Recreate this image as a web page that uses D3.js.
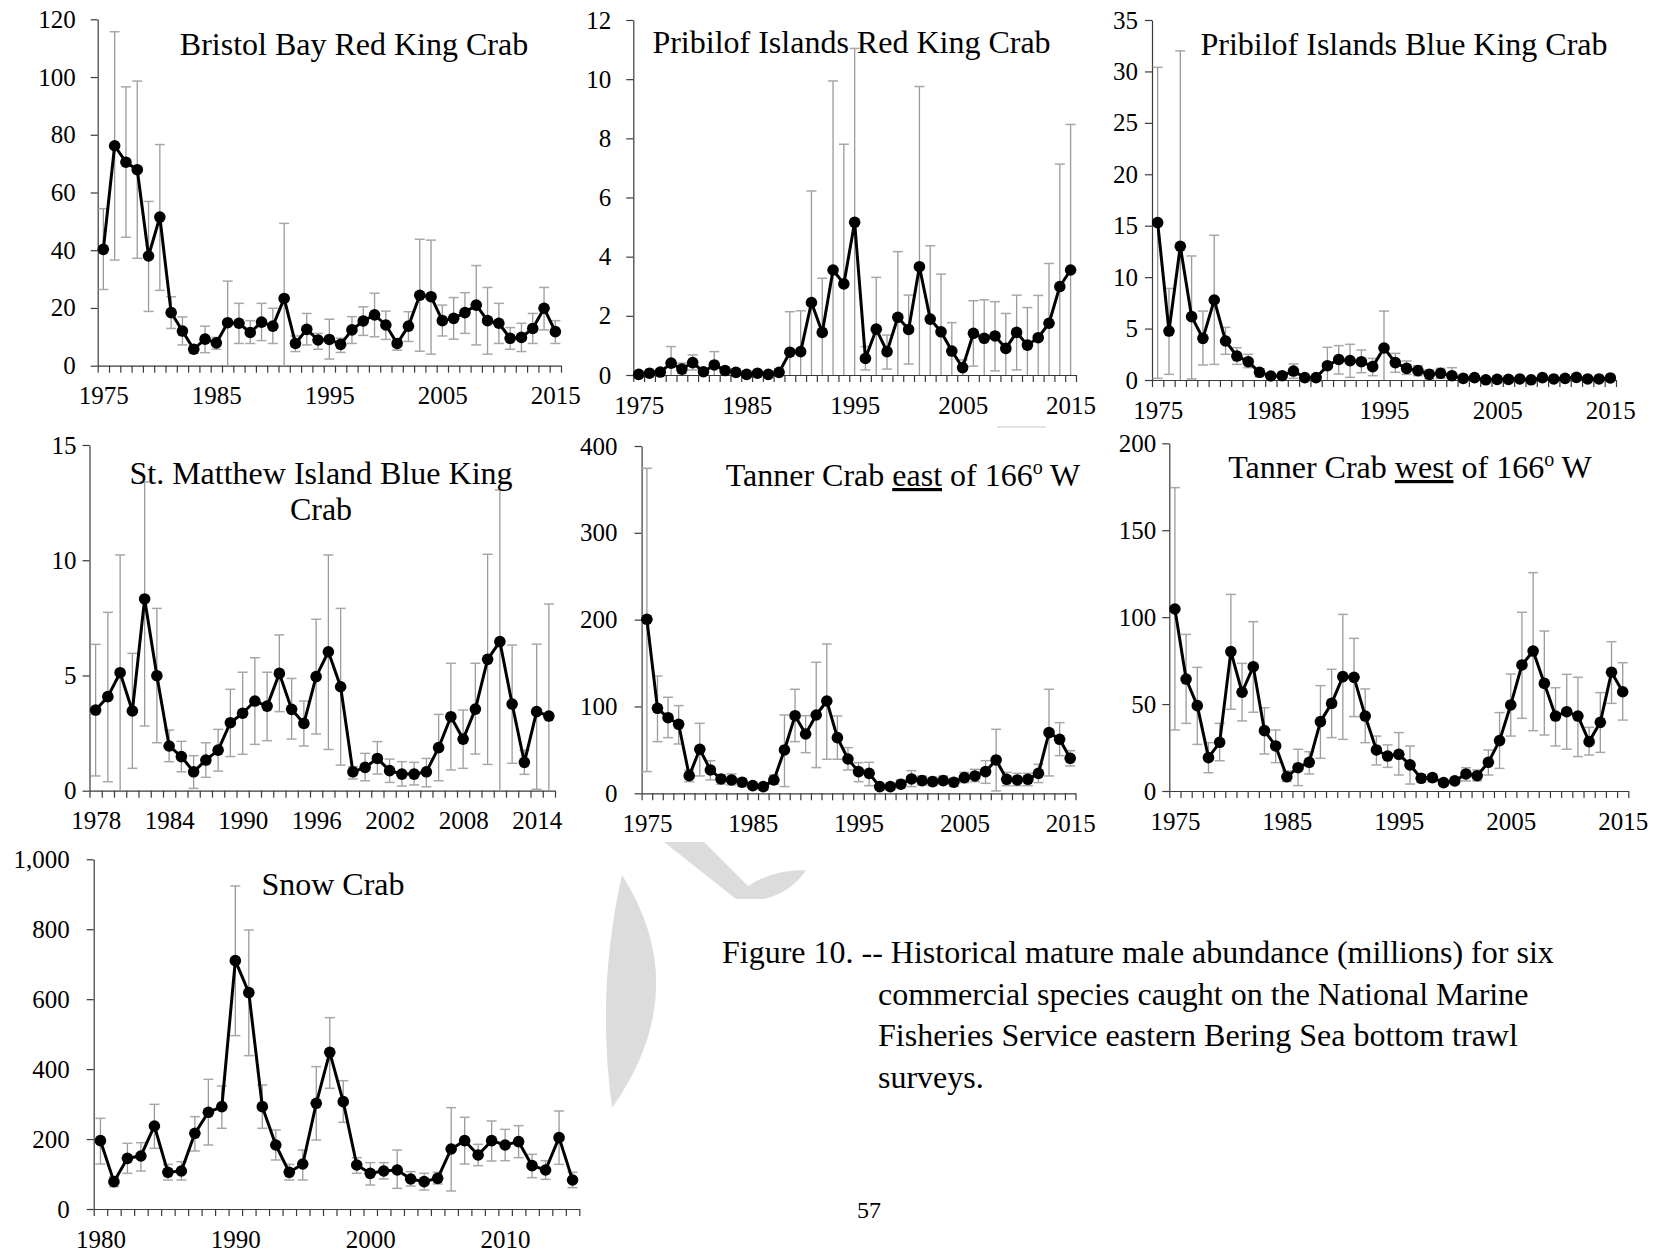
<!DOCTYPE html>
<html><head><meta charset="utf-8">
<script src="https://cdn.jsdelivr.net/npm/d3@7"></script>
<style>
html,body{margin:0;padding:0;background:#fff;}
svg{display:block;font-family:"Liberation Serif","Times New Roman",serif;}
</style></head><body>
<svg id="chart" width="1663" height="1255"></svg>
<script>
// ---------------- DATA ----------------
// Bristol Bay Red King Crab (1975-2015)
const bbYears = d3.range(1975, 2016);
const bbValues = [40.3, 76.2, 70.5, 67.9, 38.0, 51.5, 18.4, 12.0, 5.7, 9.2, 7.9, 14.9, 14.7, 11.5, 15.1, 13.7, 23.3, 7.7, 12.6, 8.9, 9.1, 7.4, 12.4, 15.5, 17.6, 14.1, 7.7, 13.7, 24.4, 23.9, 15.6, 16.4, 18.4, 21.0, 15.6, 14.7, 9.5, 9.8, 12.9, 19.9, 11.8];
const bbUpper = [54.4, 115.7, 96.6, 98.6, 56.9, 76.6, 23.9, 16.9, 6.6, 13.7, 9.8, 29.3, 21.6, 15.6, 21.6, 19.9, 49.3, 10.3, 18.1, 11.2, 16.1, 9.5, 17.0, 20.4, 25.1, 18.9, 8.9, 18.7, 43.8, 43.5, 21.0, 23.6, 25.3, 34.7, 27.1, 21.6, 13.2, 14.7, 18.1, 27.1, 15.6];
const bbLower = [26.4, 36.6, 44.5, 37.2, 18.8, 26.1, 12.9, 7.2, 4.3, 4.5, 5.7, 0, 7.7, 7.7, 8.7, 7.7, 0, 4.9, 7.2, 5.7, 2.3, 4.6, 7.7, 10.5, 10.0, 9.1, 5.4, 8.4, 5.0, 4.0, 10.3, 9.2, 11.2, 7.2, 4.0, 7.7, 5.7, 4.9, 7.7, 12.4, 7.7];
const bbYTicks = [0, 20, 40, 60, 80, 100, 120];

// Pribilof Islands Red King Crab (1975-2015)
const pirkYears = d3.range(1975, 2016);
const pirkValues = [0.02, 0.06, 0.1, 0.4, 0.2, 0.42, 0.11, 0.34, 0.15, 0.09, 0.02, 0.06, 0.02, 0.09, 0.77, 0.79, 2.45, 1.44, 3.55, 3.08, 5.16, 0.56, 1.55, 0.79, 1.95, 1.54, 3.66, 1.89, 1.46, 0.81, 0.25, 1.41, 1.24, 1.32, 0.90, 1.44, 1.01, 1.26, 1.75, 2.99, 3.55];
const pirkUpper = [0.05, 0.1, 0.2, 0.96, 0.4, 0.68, 0.2, 0.79, 0.28, 0.15, 0.05, 0.08, 0.05, 0.17, 2.14, 2.17, 6.22, 3.27, 9.94, 7.80, 11.04, 0.96, 3.30, 1.35, 4.17, 2.70, 9.75, 4.37, 3.41, 1.77, 0.51, 2.51, 2.54, 2.48, 2.08, 2.70, 2.28, 2.69, 3.77, 7.13, 8.47];
const pirkLower = [0, 0.02, 0, 0, 0.05, 0.17, 0.05, 0, 0.05, 0.05, 0, 0.04, 0, 0.02, 0, 0, 0, 0, 0, 0, 0, 0.17, 0, 0.2, 0, 0.37, 0, 0, 0, 0, 0, 0.30, 0, 0.14, 0, 0.17, 0, 0, 0, 0, 0];
const pirkYTicks = [0, 2, 4, 6, 8, 10, 12];

// Pribilof Islands Blue King Crab (1975-2015)
const pibkYears = d3.range(1975, 2016);
const pibkValues = [15.3, 4.76, 13.0, 6.16, 4.05, 7.78, 3.79, 2.33, 1.78, 0.75, 0.39, 0.42, 0.87, 0.23, 0.23, 1.39, 2.0, 1.88, 1.78, 1.30, 3.11, 1.69, 1.13, 0.91, 0.55, 0.65, 0.42, 0.16, 0.23, 0.02, 0.06, 0.06, 0.1, 0.02, 0.23, 0.1, 0.16, 0.26, 0.1, 0.1, 0.2];
const pibkUpper = [30.4, 8.9, 32.0, 12.06, 6.7, 14.07, 5.12, 3.14, 2.5, 1.07, 0.6, 0.6, 1.56, 0.35, 0.35, 3.18, 3.34, 3.47, 2.92, 2.1, 6.7, 2.59, 1.85, 1.39, 0.97, 1.13, 1.2, 0.3, 0.4, 0.05, 0.15, 0.15, 0.2, 0.05, 0.4, 0.2, 0.3, 0.45, 0.2, 0.2, 0.35];
const pibkLower = [0.16, 0.55, 0, 0.1, 1.46, 1.52, 2.5, 1.52, 1.2, 0.32, 0.2, 0.2, 0.16, 0.1, 0.1, 0, 0.58, 0.26, 0.71, 0.42, 0, 0.75, 0.55, 0.42, 0.1, 0.16, 0, 0.05, 0.05, 0, 0, 0, 0, 0, 0.05, 0, 0.05, 0.1, 0, 0, 0.05];
const pibkYTicks = [0, 5, 10, 15, 20, 25, 30, 35];

// St. Matthew Island Blue King Crab (1978-2015)
const smbkYears = d3.range(1978, 2016);
const smbkValues = [3.5, 4.08, 5.12, 3.46, 8.32, 4.99, 1.94, 1.48, 0.82, 1.33, 1.76, 2.95, 3.36, 3.89, 3.67, 5.09, 3.53, 2.92, 4.95, 6.03, 4.51, 0.82, 1.01, 1.40, 0.87, 0.72, 0.72, 0.82, 1.87, 3.21, 2.24, 3.54, 5.70, 6.47, 3.76, 1.23, 3.43, 3.24];
const smbkUpper = [6.35, 7.74, 10.23, 5.96, 13.4, 7.91, 2.63, 2.14, 1.52, 2.08, 2.66, 4.4, 5.14, 5.77, 5.14, 6.76, 4.87, 3.89, 7.44, 10.23, 7.91, 1.04, 1.62, 2.13, 1.37, 1.26, 1.23, 1.40, 3.31, 5.53, 3.5, 5.53, 10.26, 13.05, 6.32, 1.76, 6.36, 8.1];
const smbkLower = [0.64, 0.39, 0, 0.97, 2.81, 2.08, 1.26, 0.82, 0.1, 0.58, 0.85, 1.48, 1.58, 2.01, 2.17, 3.43, 2.24, 1.94, 2.46, 1.79, 1.11, 0.51, 0.43, 0.72, 0.36, 0.2, 0.25, 0.17, 0.43, 0.9, 0.97, 1.59, 1.14, 0, 1.19, 0.71, 0.06, 0];
const smbkYTicks = [0, 5, 10, 15];

// Tanner Crab east of 166 W (1975-2015)
const teYears = d3.range(1975, 2016);
const teValues = [200.4, 97.9, 87.1, 79.5, 20.3, 50.7, 26.9, 16.5, 15.4, 12.7, 8.8, 7.7, 15.4, 49.9, 89.4, 68.3, 90.2, 106.3, 64.1, 39.5, 25.0, 23.0, 7.7, 7.7, 10.4, 16.5, 14.6, 13.4, 14.6, 12.7, 18.0, 20.0, 25.0, 38.4, 16.1, 15.4, 16.1, 23.0, 69.9, 62.2, 40.3];
const teUpper = [374.3, 135.1, 110.6, 101.0, 26.9, 80.6, 37.6, 21.1, 22.3, 17.3, 11.5, 10.4, 21.1, 90.2, 119.8, 89.4, 150.9, 172.0, 89.1, 52.6, 35.3, 35.7, 9.6, 11.5, 15.4, 26.1, 20.0, 18.4, 20.0, 17.3, 24.2, 27.6, 37.6, 73.7, 24.2, 23.0, 23.0, 33.4, 119.8, 81.4, 49.1];
const teLower = [25.0, 59.5, 64.1, 56.8, 13.4, 20.0, 15.4, 10.7, 9.6, 7.7, 5.0, 3.8, 10.4, 7.7, 59.5, 46.8, 29.6, 39.2, 39.2, 26.9, 13.4, 8.8, 4.6, 3.8, 6.5, 7.7, 9.6, 8.8, 10.4, 7.7, 12.3, 13.4, 11.5, 2.7, 8.8, 8.8, 8.8, 12.3, 20.0, 43.4, 31.5];
const teYTicks = [0, 100, 200, 300, 400];

// Tanner Crab west of 166 W (1975-2015)
const twYears = d3.range(1975, 2016);
const twValues = [104.7, 64.4, 49.1, 19.2, 28.0, 80.2, 56.8, 71.5, 34.7, 25.9, 8.2, 13.4, 16.5, 39.9, 50.4, 65.8, 65.4, 43.1, 23.6, 20.1, 21.1, 15.0, 7.3, 7.7, 4.8, 5.8, 9.8, 8.8, 16.5, 29.0, 49.5, 72.5, 80.5, 61.9, 43.1, 45.6, 43.1, 28.4, 39.5, 68.3, 57.1];
const twUpper = [174.5, 90.1, 71.1, 27.8, 38.9, 113.1, 73.4, 97.4, 47.9, 35.1, 11.5, 24.0, 22.6, 60.6, 70.0, 101.6, 87.8, 58.7, 31.6, 26.5, 33.6, 25.9, 9.6, 9.6, 6.3, 7.7, 13.4, 12.1, 23.6, 45.1, 67.3, 102.8, 125.6, 92.0, 59.4, 67.1, 65.4, 36.6, 56.6, 85.9, 73.8];
const twLower = [35.1, 38.9, 26.8, 10.5, 17.4, 47.0, 40.3, 45.3, 21.3, 16.3, 5.4, 3.1, 9.8, 18.8, 30.7, 29.7, 42.8, 27.8, 15.0, 13.6, 9.2, 4.0, 5.0, 5.4, 3.1, 3.8, 5.8, 5.8, 9.2, 13.0, 31.6, 41.8, 34.7, 32.2, 25.9, 24.0, 19.8, 20.7, 22.2, 50.4, 40.8];
const twYTicks = [0, 50, 100, 150, 200];

// Snow Crab (1980-2015)
const scYears = d3.range(1980, 2016);
const scValues = [195.4, 78.2, 144.9, 151.6, 237.4, 104.9, 108.7, 216.4, 276.5, 292.7, 710.2, 618.7, 292.7, 183.0, 104.9, 128.7, 302.2, 448.1, 307.0, 125.8, 102.0, 108.7, 111.5, 85.8, 78.2, 87.7, 171.6, 195.4, 154.4, 195.4, 183.0, 192.6, 123.9, 111.5, 204.0, 82.9];
const scUpper = [259.3, 92.5, 187.8, 189.7, 299.3, 127.7, 135.4, 264.1, 370.8, 351.8, 923.7, 797.9, 354.6, 225.9, 127.7, 168.7, 407.1, 547.2, 367.0, 146.8, 132.5, 132.5, 168.7, 106.8, 102.0, 104.9, 289.8, 262.2, 184.9, 251.7, 227.8, 238.3, 156.3, 138.2, 280.3, 104.9];
const scLower = [128.7, 63.9, 102.0, 108.7, 173.5, 82.9, 82.9, 165.9, 183.0, 230.7, 495.7, 438.5, 230.7, 140.1, 82.9, 82.9, 197.3, 345.1, 247.9, 102.0, 68.6, 85.8, 59.1, 65.8, 54.3, 71.5, 51.5, 128.7, 123.9, 137.3, 138.2, 146.8, 89.6, 84.8, 127.7, 61.0];
const scYTicks = [0, 200, 400, 600, 800, 1000];

// tick labels on the year axes
const labels75 = [1975, 1985, 1995, 2005, 2015];
const labels78 = [1978, 1984, 1990, 1996, 2002, 2008, 2014];
const labels80 = [1980, 1990, 2000, 2010];

// titles
const titleBB = [[{t: "Bristol Bay Red King Crab"}]];
const titlePIRK = [[{t: "Pribilof Islands Red King Crab"}]];
const titlePIBK = [[{t: "Pribilof Islands Blue King Crab"}]];
const titleSMBK = [[{t: "St. Matthew Island Blue King"}], [{t: "Crab"}]];
const titleTE = [[{t: "Tanner Crab "}, {t: "east", u: true}, {t: " of 166"}, {t: "o", sup: true}, {t: " W"}]];
const titleTW = [[{t: "Tanner Crab "}, {t: "west", u: true}, {t: " of 166"}, {t: "o", sup: true}, {t: " W"}]];
const titleSC = [[{t: "Snow Crab"}]];

const captionLines = [
  "Figure 10. -- Historical mature male abundance (millions) for six",
  "commercial species caught on the National Marine",
  "Fisheries Service eastern Bering Sea bottom trawl",
  "surveys."
];
const pageNumber = "57";

// ---------------- LAYOUT ----------------
const panels = [
  {years: bbYears, values: bbValues, upper: bbUpper, lower: bbLower, yTicks: bbYTicks, xLabels: labels75, title: titleBB,
   box: {l: 97.7, r: 561, t: 19.3, b: 365.7}, tx: 354, ty: 55, yPad: 15, fmt: d3.format("d")},
  {years: pirkYears, values: pirkValues, upper: pirkUpper, lower: pirkLower, yTicks: pirkYTicks, xLabels: labels75, title: titlePIRK,
   box: {l: 633.3, r: 1076, t: 20, b: 375}, tx: 851.5, ty: 53, yPad: 15, fmt: d3.format("d")},
  {years: pibkYears, values: pibkValues, upper: pibkUpper, lower: pibkLower, yTicks: pibkYTicks, xLabels: labels75, title: titlePIBK,
   box: {l: 1152, r: 1616, t: 20, b: 380}, tx: 1404, ty: 55, yPad: 7, fmt: d3.format("d")},
  {years: smbkYears, values: smbkValues, upper: smbkUpper, lower: smbkLower, yTicks: smbkYTicks, xLabels: labels78, title: titleSMBK,
   box: {l: 89.5, r: 555, t: 445, b: 790.7}, tx: 321, ty: 484, yPad: 6, fmt: d3.format("d")},
  {years: teYears, values: teValues, upper: teUpper, lower: teLower, yTicks: teYTicks, xLabels: labels75, title: titleTE,
   box: {l: 641.6, r: 1075.5, t: 446, b: 793.3}, tx: 903, ty: 486, yPad: 17, fmt: d3.format("d")},
  {years: twYears, values: twValues, upper: twUpper, lower: twLower, yTicks: twYTicks, xLabels: labels75, title: titleTW,
   box: {l: 1169.3, r: 1628.3, t: 443.3, b: 791}, tx: 1410, ty: 478, yPad: 6, fmt: d3.format("d")},
  {years: scYears, values: scValues, upper: scUpper, lower: scLower, yTicks: scYTicks, xLabels: labels80, title: titleSC,
   box: {l: 93.7, r: 579.3, t: 859.3, b: 1209}, tx: 333, ty: 895, yPad: 17, fmt: d3.format(",")}
];

const FONT = '"Liberation Serif","Times New Roman",serif';
const svg = d3.select("#chart");

// faint watermark fragments
svg.append("path").attr("d", "M 622 875 Q 695 990 612 1108 Q 596 990 622 875 Z").attr("fill", "#dcdcdc");
svg.append("path").attr("d", "M 664 842 L 704 842 L 748 886 Q 772 870 806 870 Q 792 892 764 899 L 736 899 Z").attr("fill", "#dcdcdc");
svg.append("line").attr("x1", 997).attr("x2", 1046).attr("y1", 427).attr("y2", 427).attr("stroke", "#e2e2e2").attr("stroke-width", 2);

function styleAxis(sel) {
  sel.attr("font-family", FONT).attr("font-size", 25);
  sel.selectAll("path.domain").attr("stroke", "#3a3a3a").attr("stroke-width", 1.2);
  sel.selectAll(".tick line").attr("stroke", "#3a3a3a").attr("stroke-width", 1.2);
  sel.selectAll("text").attr("fill", "#000");
}

function drawPanel(p) {
  const g = svg.append("g");
  const first = p.years[0], last = p.years[p.years.length - 1];
  const x = d3.scaleLinear().domain([first - 0.5, last + 0.5]).range([p.box.l, p.box.r]);
  const y = d3.scaleLinear().domain([0, p.yTicks[p.yTicks.length - 1]]).range([p.box.b, p.box.t]);

  // y axis
  g.append("g").attr("transform", `translate(${p.box.l},0)`)
    .call(d3.axisLeft(y).tickValues(p.yTicks).tickSize(7).tickSizeOuter(0).tickPadding(p.yPad).tickFormat(p.fmt))
    .call(styleAxis);

  // x axis: tick marks between categories
  const bounds = p.years.map(v => v - 0.5).concat([last + 0.5]);
  g.append("g").attr("transform", `translate(0,${p.box.b})`)
    .call(d3.axisBottom(x).tickValues(bounds).tickSize(7).tickSizeOuter(0).tickFormat(""))
    .call(styleAxis);
  // x labels centered on categories
  g.append("g").attr("transform", `translate(0,${p.box.b})`)
    .call(d3.axisBottom(x).tickValues(p.xLabels).tickSize(0).tickPadding(21).tickFormat(d3.format("d")))
    .call(styleAxis)
    .call(s => s.select(".domain").remove());

  const rows = p.years.map((yr, i) => ({yr, v: p.values[i], hi: p.upper[i], lo: p.lower[i]}));

  // error bars
  const cap = 5;
  const eb = g.append("g").selectAll("g").data(rows).join("g");
  eb.append("line")
    .attr("x1", d => x(d.yr)).attr("x2", d => x(d.yr))
    .attr("y1", d => y(d.hi)).attr("y2", d => y(d.lo))
    .attr("stroke", "#9a9a9a").attr("stroke-width", 1.3);
  eb.append("line")
    .attr("x1", d => x(d.yr) - cap).attr("x2", d => x(d.yr) + cap)
    .attr("y1", d => y(d.hi)).attr("y2", d => y(d.hi))
    .attr("stroke", "#a8a8a8").attr("stroke-width", 1.5);
  eb.filter(d => d.lo > 0).append("line")
    .attr("x1", d => x(d.yr) - cap).attr("x2", d => x(d.yr) + cap)
    .attr("y1", d => y(d.lo)).attr("y2", d => y(d.lo))
    .attr("stroke", "#a8a8a8").attr("stroke-width", 1.5);

  // line
  g.append("path").datum(rows)
    .attr("d", d3.line().x(d => x(d.yr)).y(d => y(d.v)))
    .attr("fill", "none").attr("stroke", "#000").attr("stroke-width", 3).attr("stroke-linejoin", "round");

  // markers
  g.append("g").selectAll("circle").data(rows).join("circle")
    .attr("cx", d => x(d.yr)).attr("cy", d => y(d.v)).attr("r", 5.8).attr("fill", "#000");

  // title
  p.title.forEach((line, li) => {
    const t = g.append("text")
      .attr("x", p.tx).attr("y", p.ty + li * 36)
      .attr("text-anchor", "middle")
      .attr("font-family", FONT).attr("font-size", 32).attr("fill", "#000");
    let shifted = false;
    line.forEach(piece => {
      const ts = t.append("tspan").text(piece.t);
      if (piece.u) ts.attr("text-decoration", "underline");
      if (piece.sup) { ts.attr("font-size", 20).attr("dy", -12); shifted = true; }
      else if (shifted) { ts.attr("dy", 12); shifted = false; }
    });
  });
}

panels.forEach(drawPanel);

// caption
const cap = svg.append("g").attr("font-family", FONT).attr("font-size", 32).attr("fill", "#000");
captionLines.forEach((s, i) => {
  cap.append("text").attr("x", i === 0 ? 722 : 878).attr("y", 963 + i * 41.7).text(s);
});
svg.append("text").attr("x", 869).attr("y", 1218).attr("text-anchor", "middle")
  .attr("font-family", FONT).attr("font-size", 24).attr("fill", "#000").text(pageNumber);
</script>
</body></html>
